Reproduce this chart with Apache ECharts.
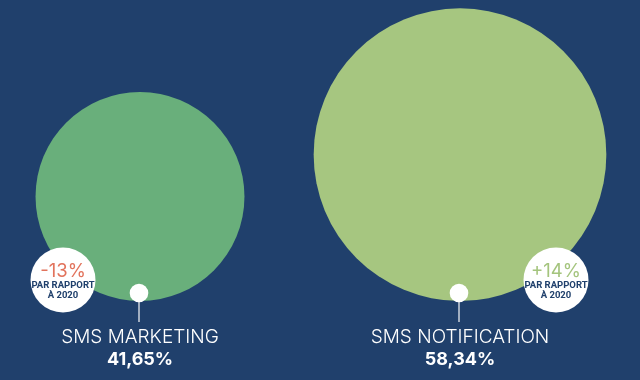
<!DOCTYPE html>
<html>
<head>
<meta charset="utf-8">
<script src="https://cdn.jsdelivr.net/npm/echarts@6/dist/echarts.min.js"></script>
<style>
html,body{margin:0;padding:0;background:#20406c;}
#chart{width:640px;height:380px;}
</style>
</head>
<body>
<div id="chart"></div>
<script>
// Data
var categories = ['SMS MARKETING', 'SMS NOTIFICATION'];
var shares = [41.65, 58.34];
var shareLabels = ['41,65%', '58,34%'];
var changeLabels = ['-13%', '+14%'];
var badgeLines = ['PAR RAPPORT', 'À 2020'];

var BG = '#20406c';
var bubbleColors = ['#69af7b', '#a6c680'];
var changeColors = ['#e2735c', '#a4c47d'];

var chart = echarts.init(document.getElementById('chart'), null, {renderer: 'canvas'});

function renderItem(params, api) {
  var i = params.dataIndex;
  var v = api.value(1);
  var c = api.coord([api.value(0), v]);
  var base = api.coord([api.value(0), 0]);
  var r = base[1] - c[1];
  var cx = c[0];
  var font = 'Inter, "Open Sans", sans-serif';
  var children = [];
  children.push({type: 'circle', shape: {cx: cx, cy: c[1], r: r}, style: {fill: bubbleColors[i]}});
  children.push({type: 'line', shape: {x1: cx - 1, y1: base[1] - 8, x2: cx - 1, y2: base[1] + 21},
    style: {stroke: '#cdd3dc', lineWidth: 1.5}});
  children.push({type: 'circle', shape: {cx: cx - 1, cy: base[1] - 8, r: 9.3}, style: {fill: '#ffffff'}});
  children.push({type: 'text', style: {x: cx, y: base[1] + 36, text: categories[i], textAlign: 'center',
    textVerticalAlign: 'middle', fill: '#ffffff', font: '300 19px ' + font}});
  children.push({type: 'text', style: {x: cx, y: base[1] + 59, text: shareLabels[i], textAlign: 'center',
    textVerticalAlign: 'middle', fill: '#ffffff', font: 'bold 18px ' + font}});
  var bx = i === 0 ? cx - 77 : cx + 96;
  var by = base[1] - 21;
  children.push({type: 'circle', shape: {cx: bx, cy: by, r: 32.5}, style: {fill: '#ffffff'}});
  children.push({type: 'text', style: {x: bx, y: by - 9, text: changeLabels[i], textAlign: 'center',
    textVerticalAlign: 'middle', fill: changeColors[i], font: '400 18.5px ' + font}});
  children.push({type: 'text', style: {x: bx, y: by + 5.5, text: badgeLines[0], textAlign: 'center',
    textVerticalAlign: 'middle', fill: BG, font: 'bold 9.5px Roboto, sans-serif'}});
  children.push({type: 'text', style: {x: bx, y: by + 16, text: badgeLines[1], textAlign: 'center',
    textVerticalAlign: 'middle', fill: BG, font: 'bold 9.5px Roboto, sans-serif'}});
  return {type: 'group', children: children};
}

chart.setOption({
  backgroundColor: BG,
  animation: false,
  grid: {left: 0, right: 0, top: 0, bottom: 79},
  xAxis: {type: 'value', min: -0.4375, max: 1.5625, show: false},
  yAxis: {type: 'value', min: 0, max: 120, show: false},
  series: [{
    type: 'custom',
    renderItem: renderItem,
    data: shares.map(function (v, i) { return [i, v]; }),
    clip: false
  }]
});
</script>
</body>
</html>
